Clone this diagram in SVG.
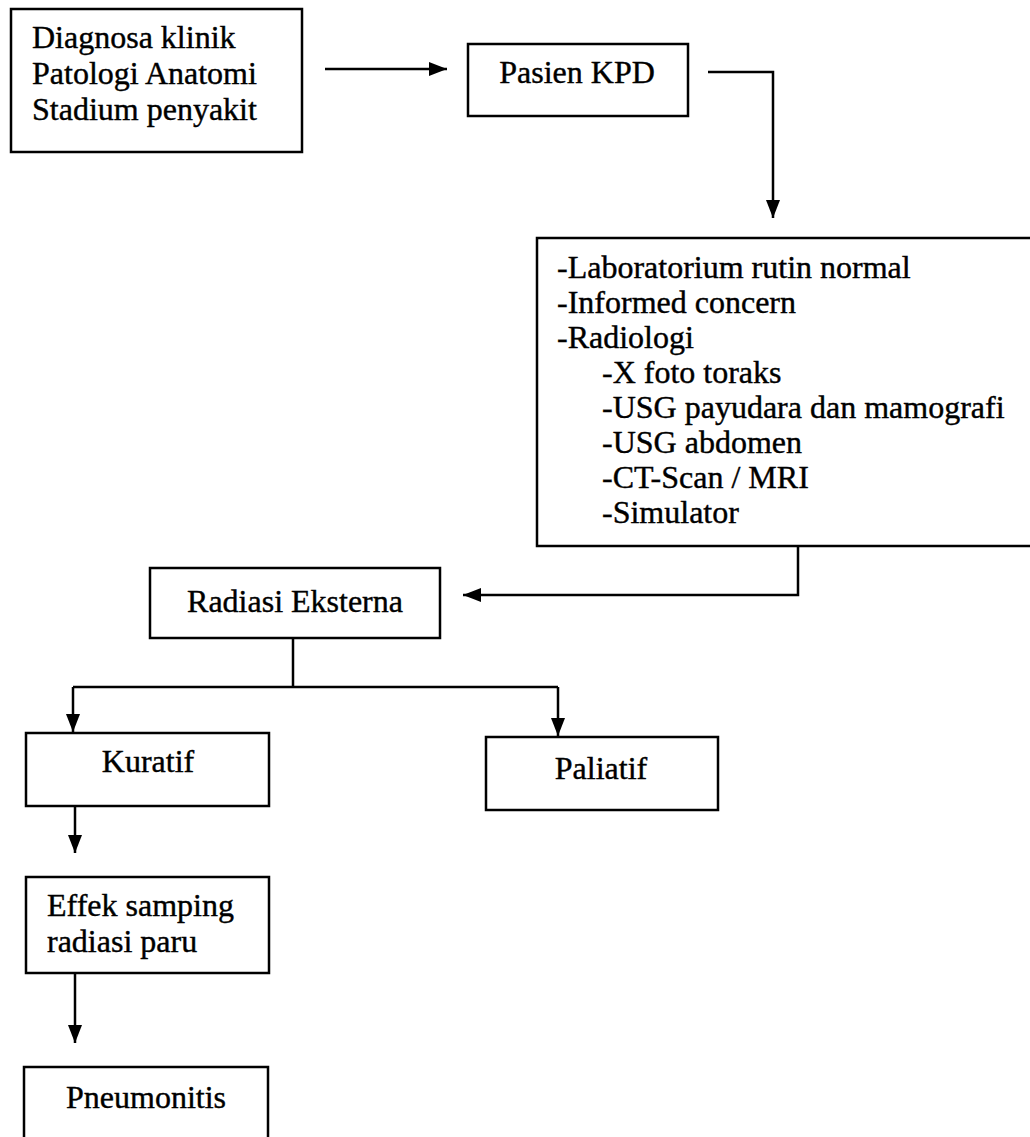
<svg xmlns="http://www.w3.org/2000/svg" width="1030" height="1137" viewBox="0 0 1030 1137">
<style>
.box{fill:#fff;stroke:#000;stroke-width:2.5}
.t{font-family:"Liberation Serif","Times New Roman",serif;font-size:32px;fill:#000;stroke:#000;stroke-width:0.4}
.c{fill:none;stroke:#000;stroke-width:2.5}
</style>
<defs>
<marker id="ah" viewBox="0 0 18 14" refX="18" refY="7" markerWidth="18" markerHeight="14" markerUnits="userSpaceOnUse" orient="auto">
<path d="M0,0 L18,7 L0,14 Z" fill="#000"/>
</marker>
</defs>
<rect width="1030" height="1137" fill="#fff"/>
<g id="connectors">
<path class="c" d="M325,69 L447,69" marker-end="url(#ah)"/>
<path class="c" d="M708,72 L773,72 L773,218" marker-end="url(#ah)"/>
<path class="c" d="M798,546 L798,595 L463,595" marker-end="url(#ah)"/>
<path class="c" d="M293,638 L293,687"/>
<path class="c" d="M73,687 L558,687"/>
<path class="c" d="M73,687 L73,732" marker-end="url(#ah)"/>
<path class="c" d="M558,687 L558,736" marker-end="url(#ah)"/>
<path class="c" d="M75,806 L75,853" marker-end="url(#ah)"/>
<path class="c" d="M75,973 L75,1043" marker-end="url(#ah)"/>
</g>
<g id="n1">
<rect class="box" x="11" y="9" width="291" height="143"/>
<text class="t" x="32" y="48">Diagnosa klinik</text>
<text class="t" x="32" y="84">Patologi Anatomi</text>
<text class="t" x="32" y="120">Stadium penyakit</text>
</g>
<g id="n2">
<rect class="box" x="468" y="44" width="220" height="72"/>
<text class="t" x="577" y="83" text-anchor="middle">Pasien KPD</text>
</g>
<g id="n3">
<rect class="box" x="537" y="238" width="500" height="308"/>
<text class="t" x="557" y="278">-Laboratorium rutin normal</text>
<text class="t" x="557" y="313">-Informed concern</text>
<text class="t" x="557" y="348">-Radiologi</text>
<text class="t" x="602" y="383">-X foto toraks</text>
<text class="t" x="602" y="418">-USG payudara dan mamografi</text>
<text class="t" x="602" y="453">-USG abdomen</text>
<text class="t" x="602" y="488">-CT-Scan / MRI</text>
<text class="t" x="602" y="523">-Simulator</text>
</g>
<g id="n4">
<rect class="box" x="150" y="568" width="290" height="70"/>
<text class="t" x="295" y="612" text-anchor="middle">Radiasi Eksterna</text>
</g>
<g id="n5">
<rect class="box" x="26" y="733" width="243" height="73"/>
<text class="t" x="148" y="772" text-anchor="middle">Kuratif</text>
</g>
<g id="n6">
<rect class="box" x="486" y="737" width="232" height="73"/>
<text class="t" x="601" y="779" text-anchor="middle">Paliatif</text>
</g>
<g id="n7">
<rect class="box" x="26" y="877" width="243" height="96"/>
<text class="t" x="47" y="916">Effek samping</text>
<text class="t" x="47" y="952">radiasi paru</text>
</g>
<g id="n8">
<rect class="box" x="24" y="1067" width="244" height="90"/>
<text class="t" x="146" y="1108" text-anchor="middle">Pneumonitis</text>
</g>
</svg>
